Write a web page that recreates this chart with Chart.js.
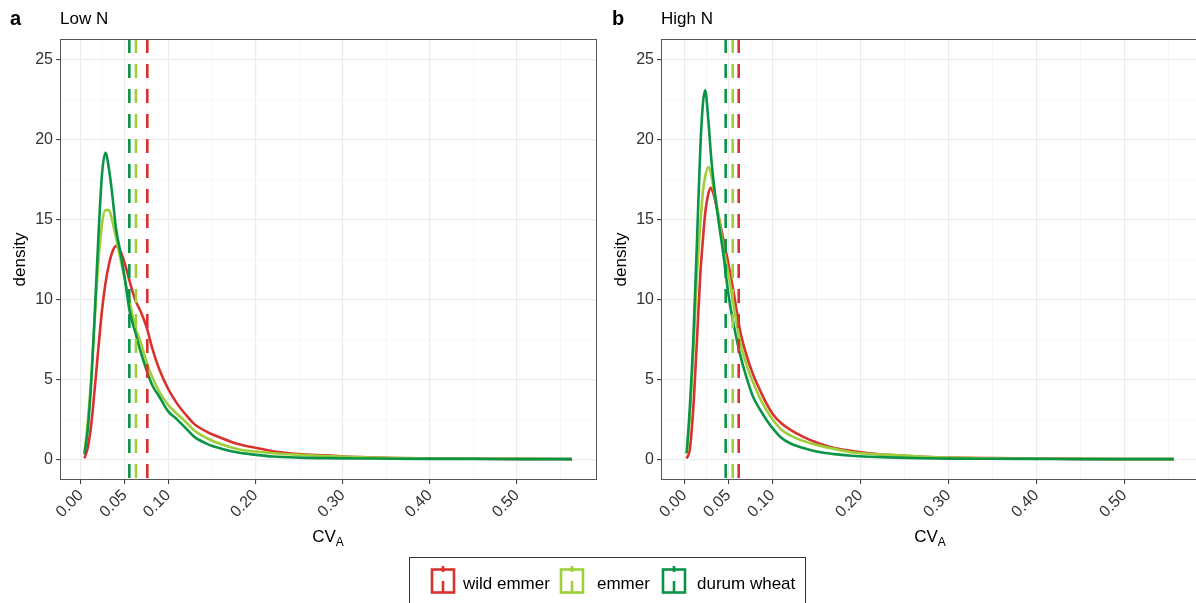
<!DOCTYPE html>
<html>
<head>
<meta charset="utf-8">
<script src="https://cdn.jsdelivr.net/npm/chart.js@4.4.1/dist/chart.umd.min.js"></script>
<style>
  body { margin: 0; background: #fff; font-family: 'Liberation Sans', Arial, sans-serif; }
  #page { position: relative; width: 1196px; height: 603px; overflow: hidden; background: #fff; }
  .abs { position: absolute; }
  .tag { font-size: 20px; font-weight: bold; line-height: 24px; color: #000; }
  .ttl { font-size: 17px; line-height: 20px; color: #000; }
  .xt { font-size: 17px; line-height: 20px; color: #000; width: 100px; text-align: center; }
  .xt sub { font-size: 12px; vertical-align: -4px; line-height: 0; }
  #legend { left: 409px; top: 557px; width: 397px; height: 60px; border: 1px solid #333; box-sizing: border-box; }
  .lab { font-size: 17px; line-height: 20px; color: #000; top: 574px; }
</style>
</head>
<body>
<div id="page">
  <canvas id="lowN" class="abs" width="600" height="560" style="left:0;top:0"></canvas>
  <canvas id="highN" class="abs" width="600" height="560" style="left:601px;top:0"></canvas>

  <div class="abs tag" style="left:10px;top:6px">a</div>
  <div class="abs ttl" style="left:60px;top:9px">Low N</div>
  <div class="abs tag" style="left:612px;top:6px">b</div>
  <div class="abs ttl" style="left:661px;top:9px">High N</div>

  <div class="abs xt" style="left:278px;top:527px">CV<sub>A</sub></div>
  <div class="abs xt" style="left:880px;top:527px">CV<sub>A</sub></div>

  <div id="legend" class="abs"></div>
  <div id="legendItems"></div>
</div>

<script>
// x grid of the density curves
var xLow = [0.004, 0.008, 0.012, 0.016, 0.02, 0.024, 0.028, 0.032, 0.036, 0.04, 0.045, 0.05, 0.056, 0.062, 0.068, 0.075, 0.082, 0.09, 0.1, 0.11, 0.12, 0.13, 0.145, 0.16, 0.18, 0.2, 0.22, 0.25, 0.28, 0.32, 0.36, 0.4, 0.45, 0.5, 0.563];
var wildLow = [0.05, 0.8, 2.3, 4.6, 7.0, 9.3, 11.0, 12.2, 13.0, 13.35, 13.05, 12.3, 11.1, 10.0, 9.3, 8.3, 6.9, 5.6, 4.4, 3.5, 2.8, 2.2, 1.7, 1.35, 0.95, 0.72, 0.5, 0.32, 0.24, 0.13, 0.08, 0.06, 0.03, 0.02, 0.01];
var emmerLow = [0.4, 2.5, 5.3, 9.0, 12.4, 14.7, 15.6, 15.6, 14.9, 13.9, 12.6, 11.3, 9.8, 8.3, 7.4, 6.1, 5.1, 4.2, 3.4, 2.85, 2.35, 1.8, 1.3, 0.95, 0.63, 0.48, 0.38, 0.28, 0.2, 0.12, 0.07, 0.05, 0.03, 0.02, 0.01];
var durumLow = [0.3, 2.0, 5.1, 9.4, 14.0, 17.8, 19.2, 18.2, 16.5, 14.5, 13.0, 11.4, 9.2, 8.0, 6.8, 5.6, 4.6, 3.9, 3.0, 2.5, 1.95, 1.4, 0.95, 0.68, 0.42, 0.28, 0.17, 0.1, 0.07, 0.05, 0.03, 0.02, 0.02, 0.01, 0.01];

var xHigh = [0.0025, 0.006, 0.01, 0.014, 0.018, 0.021, 0.0235, 0.027, 0.03, 0.033, 0.038, 0.044, 0.05, 0.056, 0.063, 0.07, 0.078, 0.086, 0.094, 0.1, 0.11, 0.12, 0.135, 0.15, 0.17, 0.19, 0.21, 0.24, 0.27, 0.3, 0.35, 0.4, 0.45, 0.5, 0.556];
var wildHigh = [0.05, 0.6, 3.2, 7.3, 11.6, 13.8, 15.4, 16.6, 17.0, 16.6, 15.4, 13.8, 12.2, 10.4, 8.1, 6.6, 5.3, 4.3, 3.4, 2.85, 2.25, 1.85, 1.4, 1.05, 0.7, 0.52, 0.38, 0.25, 0.16, 0.1, 0.07, 0.05, 0.02, 0.01, 0.01];
var emmerHigh = [0.3, 2.6, 6.7, 11.4, 14.7, 16.8, 17.7, 18.3, 17.9, 17.0, 15.5, 13.3, 11.6, 9.6, 7.4, 6.0, 4.8, 3.8, 3.0, 2.5, 1.85, 1.5, 1.15, 0.9, 0.65, 0.44, 0.34, 0.26, 0.16, 0.1, 0.06, 0.04, 0.02, 0.01, 0.01];
var durumHigh = [0.4, 3.2, 7.5, 13.4, 19.5, 22.3, 23.1, 21.3, 19.1, 17.4, 15.2, 12.9, 10.3, 8.4, 6.6, 5.2, 3.9, 3.1, 2.4, 1.95, 1.35, 1.0, 0.7, 0.48, 0.32, 0.22, 0.16, 0.1, 0.06, 0.04, 0.03, 0.02, 0.01, 0.01, 0.01];

// group means (dashed lines): wild emmer, emmer, durum wheat
var meansLow = [0.076, 0.063, 0.0554];
var meansHigh = [0.0616, 0.0548, 0.0468];

var groups = ['wild emmer', 'emmer', 'durum wheat'];
var colors = ['#d8312e', '#9ccf38', '#0b9447'];

var xTicks = [0, 0.05, 0.1, 0.2, 0.3, 0.4, 0.5];
var xMinor = [0.025, 0.075, 0.15, 0.25, 0.35, 0.45, 0.55];
var yTicks = [0, 5, 10, 15, 20, 25];
var yMinor = [2.5, 7.5, 12.5, 17.5, 22.5];

// ggplot-like panel border
var panelBorder = {
  id: 'panelBorder',
  afterDraw: function(chart) {
    var a = chart.chartArea, ctx = chart.ctx;
    ctx.save();
    ctx.strokeStyle = '#555';
    ctx.lineWidth = 1;
    ctx.strokeRect(a.left + 0.5, a.top + 0.5, a.right - a.left - 1, a.bottom - a.top - 1);
    ctx.restore();
  }
};

function isMinor(list, v) {
  return list.indexOf(v) >= 0;
}

function makeChart(id, xs, series, means, xMin, xMax) {
  var datasets = [];
  series.forEach(function(vals, i) {
    datasets.push({
      label: groups[i],
      data: xs.map(function(x, j) { return { x: x, y: vals[j] }; }),
      borderColor: colors[i],
      borderWidth: 2.6,
      pointRadius: 0,
      fill: false,
      cubicInterpolationMode: 'monotone',
      order: 3 - i + 1
    });
  });
  means.forEach(function(m, i) {
    datasets.push({
      label: groups[i] + ' mean',
      data: [{ x: m, y: 26.32 }, { x: m, y: -1.3 }],
      borderColor: colors[i],
      borderWidth: 2.6,
      borderDash: [14, 11],
      pointRadius: 0,
      fill: false,
      order: 0
    });
  });

  return new Chart(document.getElementById(id), {
    type: 'line',
    data: { datasets: datasets },
    plugins: [panelBorder],
    options: {
      responsive: false,
      animation: false,
      layout: { padding: { top: 39, right: 3, left: 0, bottom: 0 } },
      plugins: { legend: { display: false }, tooltip: { enabled: false } },
      scales: {
        x: {
          type: 'linear',
          min: xMin,
          max: xMax,
          afterBuildTicks: function(s) {
            s.ticks = xTicks.concat(xMinor).sort(function(a, b) { return a - b; })
              .map(function(v) { return { value: v }; });
          },
          afterFit: function(s) { s.height = 80; },
          border: { display: false },
          grid: {
            color: function(c) { return isMinor(xMinor, c.tick.value) ? '#f3f3f3' : '#ebebeb'; },
            lineWidth: function(c) { return isMinor(xMinor, c.tick.value) ? 0.7 : 1.2; },
            tickColor: function(c) { return isMinor(xMinor, c.tick.value) ? 'rgba(0,0,0,0)' : '#333'; },
            tickLength: 4,
            tickWidth: 1
          },
          ticks: {
            autoSkip: false,
            minRotation: 45,
            maxRotation: 45,
            padding: 2,
            color: '#333',
            font: { family: "'Liberation Sans', Arial, sans-serif", size: 16 },
            callback: function(v) { return xTicks.indexOf(v) >= 0 ? v.toFixed(2) : ''; }
          }
        },
        y: {
          min: -1.3,
          max: 26.32,
          afterBuildTicks: function(s) {
            s.ticks = yTicks.concat(yMinor).sort(function(a, b) { return a - b; })
              .map(function(v) { return { value: v }; });
          },
          afterFit: function(s) { s.width = 60; },
          border: { display: false },
          grid: {
            color: function(c) { return isMinor(yMinor, c.tick.value) ? '#f3f3f3' : '#ebebeb'; },
            lineWidth: function(c) { return isMinor(yMinor, c.tick.value) ? 0.7 : 1.2; },
            tickColor: function(c) { return isMinor(yMinor, c.tick.value) ? 'rgba(0,0,0,0)' : '#333'; },
            tickLength: 4,
            tickWidth: 1
          },
          ticks: {
            autoSkip: false,
            padding: 3,
            color: '#333',
            font: { family: "'Liberation Sans', Arial, sans-serif", size: 16 },
            callback: function(v) { return yTicks.indexOf(v) >= 0 ? String(v) : ''; }
          },
          title: {
            display: true,
            text: 'density',
            color: '#000',
            padding: { top: 10, bottom: 0 },
            font: { family: "'Liberation Sans', Arial, sans-serif", size: 17 }
          }
        }
      }
    }
  });
}

makeChart('lowN', xLow, [wildLow, emmerLow, durumLow], meansLow, -0.0241, 0.5917);
makeChart('highN', xHigh, [wildHigh, emmerHigh, durumHigh], meansHigh, -0.0267, 0.5835);

// legend: key boxes with the vline mark, then labels
var iconLeft = [430, 559, 661];
var textLeft = [463, 597, 697];
var html = '';
groups.forEach(function(g, i) {
  var c = colors[i];
  html += '<svg class="abs" style="left:' + iconLeft[i] + 'px;top:566px" width="26" height="29">' +
    '<rect x="2" y="3.5" width="22" height="23" fill="#fff" stroke="' + c + '" stroke-width="2.6"/>' +
    '<line x1="13" y1="0" x2="13" y2="6" stroke="' + c + '" stroke-width="2.6"/>' +
    '<line x1="13" y1="15" x2="13" y2="27" stroke="' + c + '" stroke-width="2.6"/>' +
    '</svg>';
  html += '<div class="abs lab" style="left:' + textLeft[i] + 'px">' + g + '</div>';
});
document.getElementById('legendItems').innerHTML = html;
</script>
</body>
</html>
